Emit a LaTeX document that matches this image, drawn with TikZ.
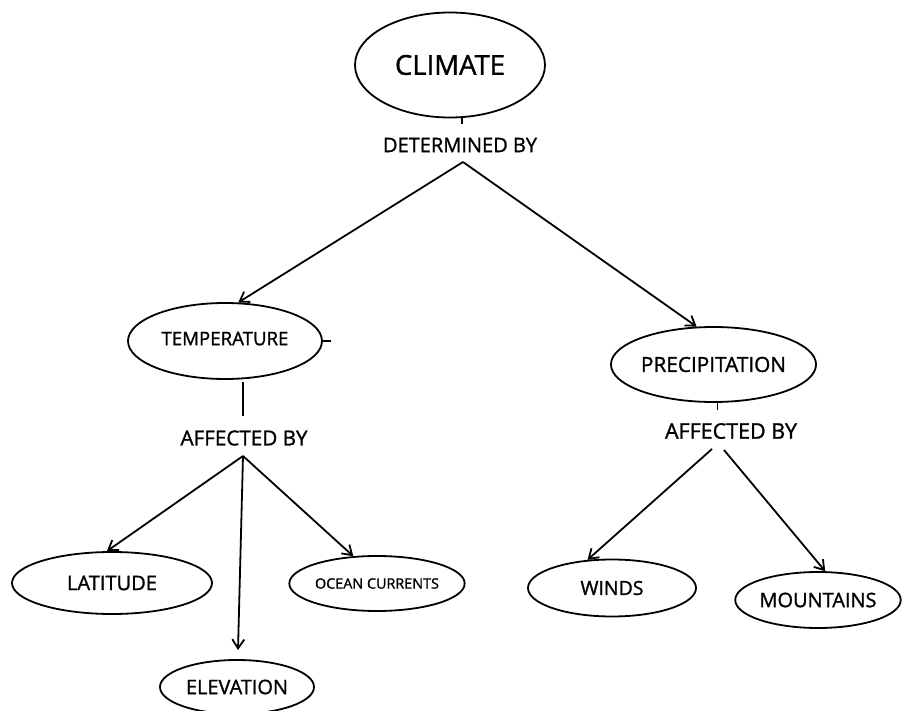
\documentclass[tikz,border=0pt]{standalone}
\usepackage{fontspec}
\setmainfont{Open Sans}[FakeBold=1.2,AutoFakeBold=1.2]
\usepackage{graphicx}
\usetikzlibrary{shapes.geometric,arrows.meta}
\newcommand{\fitw}[2]{\resizebox{#1pt}{!}{\bfseries #2}}
\begin{document}
\begin{tikzpicture}[x=1pt,y=-1pt,
  concept/.style={draw,ellipse,line width=1.8pt,inner sep=0pt},
  linklabel/.style={inner sep=1pt},
  conn/.style={line width=1.8pt},
  arr/.style={conn,-{Straight Barb[length=9pt,width=12pt,line width=1.8pt]}},
  stub/.style={line width=1.8pt}]
\useasboundingbox[fill=white] (0,0) rectangle (903,711);
% concepts
\node[concept,minimum width=190pt,minimum height=105pt] (climate) at (450,65) {\raisebox{-7pt}{\fitw{110}{CLIMATE}}\hspace{6pt}};
\node[concept,minimum width=194pt,minimum height=76pt] (temp) at (225,341) {\raisebox{5pt}{\fitw{127}{TEMPERATURE}}};
\node[concept,minimum width=193pt,minimum height=75pt] (prec) at (713.5,364.5) {\fitw{145}{PRECIPITATION}};
\node[concept,minimum width=200pt,minimum height=62pt] (lat) at (112,583) {\fitw{90}{LATITUDE}};
\node[concept,minimum width=174pt,minimum height=55pt] (ocean) at (377,583.5) {\fitw{124}{OCEAN CURRENTS}};
\node[concept,minimum width=154pt,minimum height=54pt] (elev) at (237,687) {\fitw{102}{ELEVATION}};
\node[concept,minimum width=168pt,minimum height=57pt] (winds) at (612,588) {\fitw{63}{WINDS}};
\node[concept,minimum width=160pt,minimum height=56pt] (mount) at (818,600) {\fitw{117}{MOUNTAINS}};
% linking phrases
\node[linklabel] (det) at (460,145) {\fitw{154}{DETERMINED BY}};
\node[linklabel] (affT) at (244,438) {\fitw{127}{AFFECTED BY}};
\node[linklabel] (affP) at (731,431) {\fitw{132}{AFFECTED BY}};
% helper coordinates
\coordinate (detApex) at (463,162);
\coordinate (tempStubTop) at (243,382);
\coordinate (tempStubBot) at (243,416);
\coordinate (affTApex) at (243,456);
\coordinate (affPApexL) at (712,449);
\coordinate (affPApexR) at (724,450);
\coordinate (elevTip) at (238,650);
% stubs
\draw[stub] (climate.south) ++(12,0) coordinate (cs) -- ++(0,6);
\draw[stub] (temp.east) -- ++(8,0);
\draw[stub] (tempStubTop) -- (tempStubBot);
\draw[stub] (prec.south) ++(4,0) -- ++(0,7);
% connectors
\draw[arr] (detApex) -- (temp.71);
\draw[arr] (detApex) -- (prec.114);
\draw[arr] (affTApex) -- (lat.99);
\draw[arr] (affTApex) -- (elevTip);
\draw[arr] (affTApex) -- (ocean.131);
\draw[arr] (affPApexL) -- (winds.131);
\draw[arr] (affPApexR) -- (mount.76);
\end{tikzpicture}
\end{document}
